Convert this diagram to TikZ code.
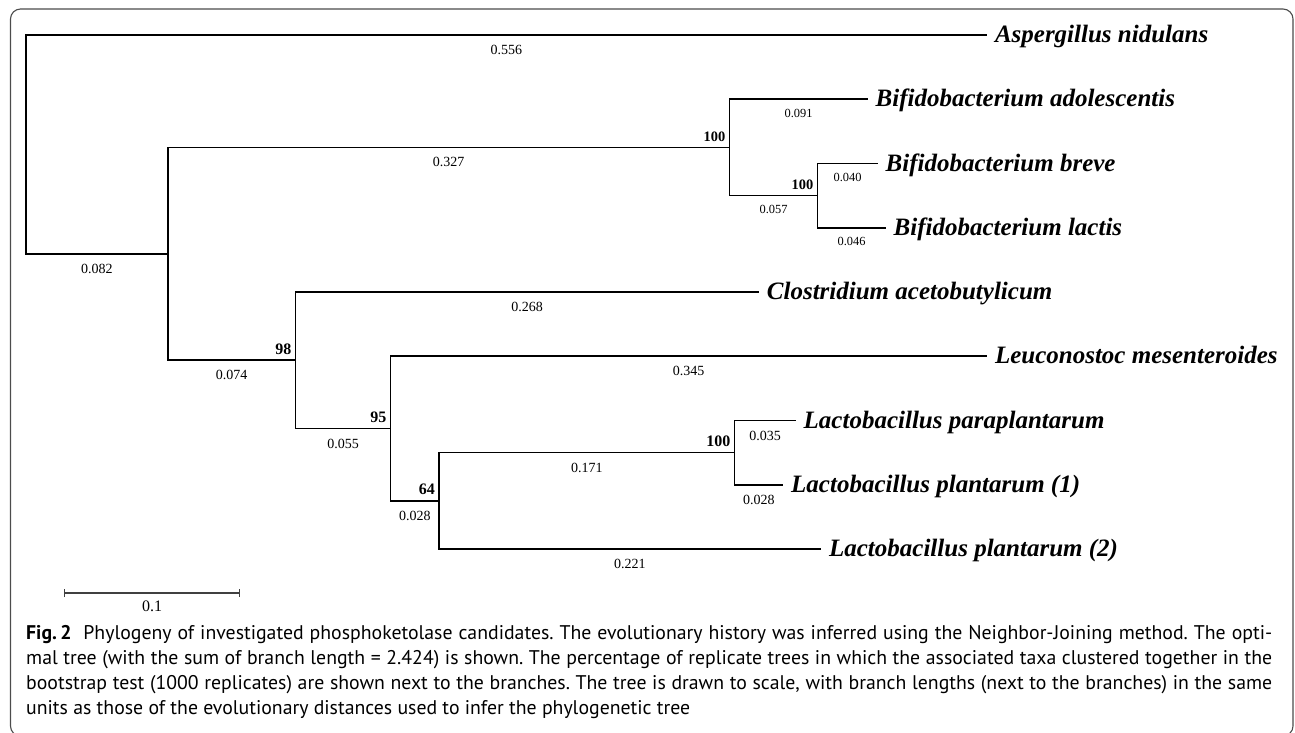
\documentclass[tikz,border=0pt]{standalone}
\usepackage{fontspec}
\setmainfont{Liberation Serif}
\newfontfamily\capfont{PT Sans}
\usetikzlibrary{arrows.meta}
\newsavebox\capmeasure
\begin{document}
\sbox\capmeasure{\capfont\fontsize{10}{12}\selectfont units as those of the evolutionary distances used to infer the phylogenetic tree}%
\pgfmathsetmacro\capsize{10*664/\wd\capmeasure}%
\begin{tikzpicture}[x=1pt,y=-1pt,
  branch/.style={line width=1.7pt, black},
  taxon/.style={font=\fontsize{25}{30}\selectfont\bfseries\itshape, anchor=west, inner xsep=8pt, inner ysep=0pt, text height=19pt, text depth=3.6pt},
  blen/.style={font=\fontsize{14}{16}\selectfont, anchor=base, yshift=-19.5pt, inner sep=0pt},
  smallblen/.style={font=\fontsize{12.4}{14}\selectfont, anchor=base, yshift=-18pt, inner sep=0pt},
  boot/.style={font=\fontsize{16}{18}\selectfont\bfseries, anchor=base east, inner sep=0pt, xshift=-4pt, yshift=6pt},
  smallboot/.style={font=\fontsize{14.4}{16}\selectfont\bfseries, anchor=base east, inner sep=0pt, xshift=-4pt, yshift=6pt},
  capline/.style={font=\capfont\fontsize{\capsize}{25}\selectfont\frenchspacing, anchor=base west, inner sep=0pt},
  frame/.style={draw=black!70, line width=1.1pt, rounded corners=10pt},
  scalebar/.style={draw=black!75, line width=1.2pt, {Bar[width=8pt]}-{Bar[width=8pt]}}
]
\useasboundingbox (0,0) rectangle (1295,732);
\clip (0,0) rectangle (1295,732);
\draw[frame] (10.5,9) rectangle (1293,736);

% internal nodes
\coordinate (R)  at (26,144.4);
\coordinate (N1) at (167.7,253.8);
\coordinate (N2) at (729.5,147.4);
\coordinate (N3) at (817.5,195.6);
\coordinate (N4) at (295.6,360.3);
\coordinate (N5) at (390.6,428.5);
\coordinate (N6) at (439.0,500.8);
\coordinate (N7) at (734.5,452.6);

% leaves
\node[taxon] (asp)  at (986.8,35)    {Aspergillus nidulans};
\node[taxon] (adol) at (867.5,99.25) {Bifidobacterium adolescentis};
\node[taxon] (brev) at (877.5,163.5) {Bifidobacterium breve};
\node[taxon] (lact) at (885.5,227.75) {Bifidobacterium lactis};
\node[taxon] (clos) at (758.7,292)   {Clostridium acetobutylicum};
\node[taxon] (leuc) at (986.8,356.25) {Leuconostoc mesenteroides};
\node[taxon] (para) at (795.5,420.5) {Lactobacillus paraplantarum};
\node[taxon] (pl1)  at (783.0,484.75) {Lactobacillus plantarum (1)};
\node[taxon] (pl2)  at (820.9,549)   {Lactobacillus plantarum (2)};

% branches
\draw[branch] (R)  |- (asp.west)  node[blen,pos=0.75] {0.556};
\draw[branch] (R)  |- (N1)        node[blen,pos=0.75] {0.082};
\draw[branch] (N1) |- (N2)        node[blen,pos=0.75] {0.327};
\draw[branch] (N2) |- (adol.west) node[smallblen,pos=0.75] {0.091};
\draw[branch] (N2) |- (N3)        node[smallblen,pos=0.75] {0.057};
\draw[branch] (N3) |- (brev.west) node[smallblen,pos=0.75] {0.040};
\draw[branch] (N3) |- (lact.west) node[smallblen,pos=0.75] {0.046};
\draw[branch] (N1) |- (N4)        node[blen,pos=0.75] {0.074};
\draw[branch] (N4) |- (clos.west) node[blen,pos=0.75] {0.268};
\draw[branch] (N4) |- (N5)        node[blen,pos=0.75] {0.055};
\draw[branch] (N5) |- (leuc.west) node[blen,pos=0.75] {0.345};
\draw[branch] (N5) |- (N6)        node[blen,pos=0.75] {0.028};
\draw[branch] (N6) |- (N7)        node[blen,pos=0.75] {0.171};
\draw[branch] (N7) |- (para.west) node[blen,pos=0.75] {0.035};
\draw[branch] (N7) |- (pl1.west)  node[blen,pos=0.75] {0.028};
\draw[branch] (N6) |- (pl2.west)  node[blen,pos=0.75] {0.221};

% bootstrap values
\node[smallboot] (b2) at (N2) {100};
\node[smallboot] (b3) at (N3) {100};
\node[boot] (b4) at (N4) {98};
\node[boot] (b5) at (N5) {95};
\node[boot] (b6) at (N6) {64};
\node[boot] (b7) at (N7) {100};

% scale bar
\coordinate (sbL) at (64,593);
\coordinate (sbR) at (240,593);
\draw[scalebar] (sbL) -- (sbR);
\node[font=\fontsize{16}{18}\selectfont, anchor=base, inner sep=0pt] (sblab) at (152,611) {0.1};

% caption
\node[capline] (c1) at (26,639) {\makebox[1246pt][s]{\textbf{Fig.\,2}\hspace{0.6em}Phylogeny of investigated phosphoketolase candidates. The evolutionary history was inferred using the Neighbor-Joining method. The opti-}};
\node[capline] (c2) at (26,664) {\makebox[1246pt][s]{mal tree (with the sum of branch length = 2.424) is shown. The percentage of replicate trees in which the associated taxa clustered together in the}};
\node[capline] (c3) at (26,689) {\makebox[1246pt][s]{bootstrap test (1000 replicates) are shown next to the branches. The tree is drawn to scale, with branch lengths (next to the branches) in the same}};
\node[capline] (c4) at (26,714) {units as those of the evolutionary distances used to infer the phylogenetic tree};
\end{tikzpicture}
\end{document}
